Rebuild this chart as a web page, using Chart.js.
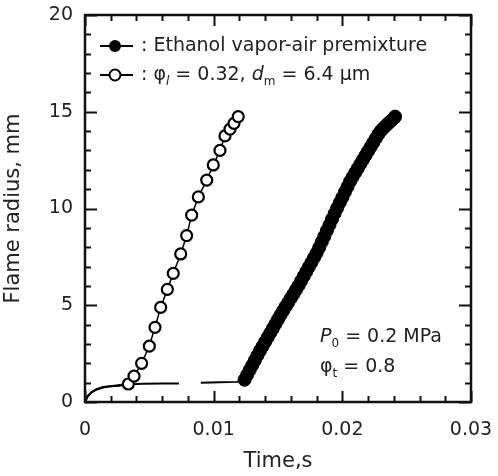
<!DOCTYPE html>
<html>
<head>
<meta charset="utf-8">
<script src="https://cdn.jsdelivr.net/npm/chart.js@4"></script>
<style>
    html, body { margin: 0; padding: 0; background: #fff; }
</style>
</head>
<body>
<canvas id="chart1" width="498" height="476"></canvas>
<script>
// Ethanol vapor-air premixture: early kernel trace (line only), then measured radius
var vaporKernelTime = [0, 0.0002, 0.0005, 0.0009, 0.0014, 0.002, 0.003, 0.0045, 0.006, 0.0073, 0.008, 0.009, 0.0105, 0.0118, 0.0124];
var vaporKernelRadius = [0, 0.3, 0.5, 0.65, 0.75, 0.82, 0.9, 0.94, 0.95, 0.96, null, 1.0, 1.02, 1.04, 1.15];

var vaporTime = [0.0124, 0.0126, 0.0128, 0.0130, 0.0132, 0.0134, 0.0136, 0.0138, 0.0140, 0.0142,
    0.0144, 0.0146, 0.0148, 0.0150, 0.0152, 0.0154, 0.0156, 0.0158, 0.0160, 0.0162,
    0.0164, 0.0166, 0.0168, 0.0170, 0.0172, 0.0174, 0.0176, 0.0178, 0.0180, 0.0182,
    0.0184, 0.0186, 0.0188, 0.0190, 0.0192, 0.0194, 0.0196, 0.0198, 0.0200, 0.0202,
    0.0204, 0.0206, 0.0208, 0.0210, 0.0212, 0.0214, 0.0216, 0.0218, 0.0220, 0.0222,
    0.0224, 0.0226, 0.0228, 0.0230, 0.0232, 0.0234, 0.0236, 0.0238, 0.0240, 0.0241];
var vaporRadius = [1.15, 1.4, 1.65, 1.9, 2.15, 2.4, 2.65, 2.88, 3.11, 3.34,
    3.57, 3.8, 4.03, 4.27, 4.5, 4.72, 4.94, 5.15, 5.37, 5.58,
    5.8, 6.02, 6.26, 6.5, 6.74, 6.98, 7.22, 7.46, 7.7, 7.98,
    8.27, 8.56, 8.86, 9.15, 9.45, 9.74, 10.02, 10.3, 10.57, 10.85,
    11.12, 11.4, 11.63, 11.85, 12.07, 12.3, 12.52, 12.74, 12.96, 13.18,
    13.4, 13.62, 13.84, 14.02, 14.16, 14.29, 14.42, 14.54, 14.66, 14.75];

// Spray (phi_l = 0.32, d_m = 6.4 um)
var sprayKernelTime = [0, 0.0002, 0.0005, 0.0009, 0.0014, 0.002, 0.0027, 0.00337];
var sprayKernelRadius = [0, 0.28, 0.5, 0.66, 0.78, 0.82, 0.84, 0.93];

var sprayTime = [0.00337, 0.00381, 0.0044, 0.005, 0.00544, 0.00588, 0.0064, 0.00686, 0.00744, 0.0079,
    0.00829, 0.00881, 0.00946, 0.00997, 0.01049, 0.01088, 0.01127, 0.01158, 0.01191];
var sprayRadius = [0.93, 1.34, 2.0, 2.89, 3.86, 4.89, 5.82, 6.65, 7.65, 8.6,
    9.66, 10.6, 11.47, 12.25, 13.0, 13.75, 14.1, 14.4, 14.75];

var xTickValues = [0, 0.01, 0.02, 0.03];
var yTickValues = [0, 5, 10, 15, 20];
var xTitle = 'Time,s';
var yTitle = 'Flame radius, mm';

var FONT = '"DejaVu Sans"';

function toPoints(xs, ys) {
    return xs.map(function (x, i) { return { x: x, y: ys[i] }; });
}

// draw text pieces one after another, some as subscripts / italics
function drawRich(ctx, parts, x, y, size) {
    parts.forEach(function (p) {
        var s = p.sub ? Math.round(size * 0.65) : size;
        ctx.font = (p.italic ? 'italic ' : '') + s + 'px ' + FONT;
        ctx.fillText(p.text, x, y + (p.sub ? size * 0.35 : 0));
        x += ctx.measureText(p.text).width;
    });
}

var framePlugin = {
    id: 'frame',
    afterDraw: function (chart) {
        var ctx = chart.ctx;
        var a = chart.chartArea;
        var xs = chart.scales.x;
        var ys = chart.scales.y;
        ctx.save();
        ctx.strokeStyle = '#111';
        ctx.lineWidth = 2;
        ctx.lineCap = 'butt';

        // inward ticks on all four sides
        var i, px, len;
        for (i = 0; i <= 15; i++) {
            px = Math.round(xs.getPixelForValue(i * 0.002)) + 0.5;
            len = (i % 5 === 0) ? 11 : 6;
            ctx.beginPath();
            ctx.moveTo(px, a.bottom); ctx.lineTo(px, a.bottom - len);
            ctx.moveTo(px, a.top); ctx.lineTo(px, a.top + len);
            ctx.stroke();
        }
        for (i = 0; i <= 20; i++) {
            px = Math.round(ys.getPixelForValue(i)) + 0.5;
            len = (i % 5 === 0) ? 12 : 6;
            ctx.beginPath();
            ctx.moveTo(a.left, px); ctx.lineTo(a.left + len, px);
            ctx.moveTo(a.right, px); ctx.lineTo(a.right - len, px);
            ctx.stroke();
        }

        ctx.lineWidth = 2.5;
        ctx.strokeRect(a.left, a.top, a.right - a.left, a.bottom - a.top);

        // legend
        ctx.textBaseline = 'middle';
        var lx1 = a.left + 15, lx2 = a.left + 48, mx = a.left + 30;
        var r1 = a.top + 31, r2 = a.top + 60;
        ctx.strokeStyle = '#000';
        ctx.lineWidth = 2;
        ctx.beginPath();
        ctx.moveTo(lx1, r1); ctx.lineTo(lx2, r1);
        ctx.moveTo(lx1, r2); ctx.lineTo(lx2, r2);
        ctx.stroke();
        ctx.beginPath();
        ctx.arc(mx, r1, 6, 0, Math.PI * 2);
        ctx.fillStyle = '#000';
        ctx.fill();
        ctx.beginPath();
        ctx.arc(mx, r2, 5.5, 0, Math.PI * 2);
        ctx.fillStyle = '#fff';
        ctx.fill();
        ctx.stroke();

        ctx.fillStyle = '#222';
        drawRich(ctx, [{ text: ': Ethanol vapor-air premixture' }], a.left + 56, r1, 19);
        drawRich(ctx, [
            { text: ': ' }, { text: 'φ' }, { text: 'l', sub: true, italic: true },
            { text: ' = 0.32, ' }, { text: 'd', italic: true }, { text: 'm', sub: true },
            { text: ' = 6.4 μm' }
        ], a.left + 56, r2, 19);

        // conditions
        drawRich(ctx, [
            { text: 'P', italic: true }, { text: '0', sub: true }, { text: ' = 0.2 MPa' }
        ], a.left + 235, a.top + 322, 19);
        drawRich(ctx, [
            { text: 'φ' }, { text: 't', sub: true }, { text: ' = 0.8' }
        ], a.left + 235, a.top + 352, 19);
        ctx.restore();
    }
};

var ctx = document.getElementById('chart1').getContext('2d');
var myChart = new Chart(ctx, {
    type: 'scatter',
    data: {
        datasets: [{
            label: 'Ethanol vapor-air premixture (kernel)',
            data: toPoints(vaporKernelTime, vaporKernelRadius),
            showLine: true,
            spanGaps: false,
            pointRadius: 0,
            borderColor: '#000',
            borderWidth: 2,
            order: 4
        }, {
            label: 'Ethanol vapor-air premixture',
            data: toPoints(vaporTime, vaporRadius),
            showLine: true,
            pointRadius: 6.5,
            pointBackgroundColor: '#000',
            pointBorderColor: '#000',
            pointBorderWidth: 1,
            borderColor: '#000',
            borderWidth: 1.5,
            order: 2
        }, {
            label: 'Spray (kernel)',
            data: toPoints(sprayKernelTime, sprayKernelRadius),
            showLine: true,
            pointRadius: 0,
            borderColor: '#000',
            borderWidth: 2,
            order: 3
        }, {
            label: 'Spray',
            data: toPoints(sprayTime, sprayRadius),
            showLine: true,
            pointRadius: 5.5,
            pointBackgroundColor: '#fff',
            pointBorderColor: '#000',
            pointBorderWidth: 2.2,
            borderColor: '#000',
            borderWidth: 1.5,
            order: 1
        }]
    },
    options: {
        responsive: false,
        animation: false,
        devicePixelRatio: 1,
        layout: { padding: { top: 15, right: 27, left: 0, bottom: 0 } },
        plugins: {
            legend: { display: false },
            tooltip: { enabled: false }
        },
        scales: {
            x: {
                type: 'linear',
                min: 0,
                max: 0.03,
                afterBuildTicks: function (scale) {
                    scale.ticks = xTickValues.map(function (v) { return { value: v }; });
                },
                afterFit: function (scale) {
                    scale.height = 74;
                    scale.paddingLeft = 0;
                    scale.paddingRight = 0;
                },
                grid: { display: false, drawTicks: false },
                border: { display: false },
                ticks: {
                    autoSkip: false,
                    maxRotation: 0,
                    padding: 17,
                    color: '#222',
                    font: { family: FONT, size: 19 },
                    callback: function (value) { return String(Number(value.toFixed(3))); }
                },
                title: {
                    display: true,
                    text: xTitle,
                    color: '#222',
                    font: { family: FONT, size: 21 },
                    padding: { top: 0, bottom: 2 }
                }
            },
            y: {
                type: 'linear',
                min: 0,
                max: 20,
                afterBuildTicks: function (scale) {
                    scale.ticks = yTickValues.map(function (v) { return { value: v }; });
                },
                afterFit: function (scale) {
                    scale.width = 85;
                    scale.paddingTop = 0;
                    scale.paddingBottom = 0;
                },
                grid: { display: false, drawTicks: false },
                border: { display: false },
                ticks: {
                    padding: 12,
                    color: '#222',
                    font: { family: FONT, size: 19 }
                },
                title: {
                    display: true,
                    text: yTitle,
                    color: '#222',
                    font: { family: FONT, size: 21 },
                    padding: { top: 1, bottom: 0 }
                }
            }
        }
    },
    plugins: [framePlugin]
});
</script>
</body>
</html>
